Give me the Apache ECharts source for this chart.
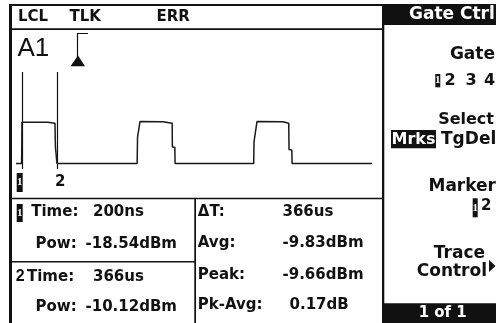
<!DOCTYPE html>
<html><head><meta charset="utf-8">
<script src="https://cdn.jsdelivr.net/npm/echarts@6/dist/echarts.min.js"></script>
<style>html,body{margin:0;padding:0;background:#fff}#c{width:496px;height:323px}</style>
</head><body><div id="c"></div>
<script>
// ---- data ----
const statusFlags = ['LCL', 'TLK', 'ERR'];
const channelLabel = 'A1';
const traceTimeUs = [-60, -2, 0.2, 2, 270, 276, 347, 352, 364, 368,
  1206, 1210, 1236, 1476, 1480, 1572, 1574, 1600, 1602,
  2424, 2427, 2458, 2730, 2734, 2790, 2793, 2822, 2825, 3660];
const traceDbm = [-22.1, -22.1, -18.54, -9.85, -9.85, -10.15, -10.15, -17.2, -17.4, -22.1,
  -22.1, -14.3, -9.66, -9.7, -10.14, -10.14, -17.2, -17.3, -22.1,
  -22.1, -15.7, -9.66, -9.7, -10.14, -10.14, -18.0, -18.1, -22.1, -22.1];
const markerIds = ['1', '2'];
const markerTimeUs = [0.2, 366];
const markerTimeText = ['200ns', '366us'];
const markerPowText = ['-18.54dBm', '-10.12dBm'];
const statNames = ['\u0394T:', 'Avg:', 'Peak:', 'Pk-Avg:'];
const statValues = ['366us', '-9.83dBm', '-9.66dBm', '0.17dB'];
const triggerTimeUs = [574];
const menuTitle = 'Gate Ctrl';
const gateChoices = ['1', '2', '3', '4'];
const selectChoices = ['Mrks', 'TgDel'];
const markerChoices = ['1', '2'];
const menuLabels = ['Gate', 'Select', 'Marker', 'Trace', 'Control'];
const pageText = '1 of 1';

// ---- rendering ----
const BLACK = '#111';
const F = (size, w) => (w || 'bold') + ' ' + size + 'px "DejaVu Sans"';
const txt = (t, x, y, font, opt) => Object.assign({
  type: 'text', x: x, y: y, silent: true,
  style: { text: t, font: font, fill: BLACK, textAlign: 'left', textVerticalAlign: 'middle' }
}, opt || {});
const rect = (x, y, w, h, fill) => ({ type: 'rect', silent: true, shape: { x: x, y: y, width: w, height: h }, style: { fill: fill || BLACK } });
// reversed (white on black) small digit
const revDigit = (t, x, y, w, h) => ({
  type: 'group', silent: true, children: [
    rect(x, y, w, h),
    { type: 'text', x: x + w / 2, y: y + h / 2, style: { text: t, font: 'bold 11px "Liberation Sans Narrow"', fill: '#fff', textAlign: 'center', textVerticalAlign: 'middle' } }
  ]
});

const graphics = [];
// frame
graphics.push(rect(9, 4, 3, 319));
graphics.push(rect(9, 4, 375, 2));
graphics.push(rect(9, 28.3, 375, 1.7));
graphics.push(rect(382, 4, 2.3, 319));
graphics.push(rect(9, 197.8, 375, 1.5));
graphics.push(rect(194.3, 198, 1.7, 125));
graphics.push(rect(9, 261, 186, 1.5));
// status bar
const statusX = [18, 69.5, 156.5];
statusFlags.forEach((s, i) => graphics.push(txt(s, statusX[i], 17.4, F(15))));
graphics.push(txt(channelLabel, 17.5, 48.4, '26px "Liberation Sans"'));
// table, left half (markers)
const rowYL = [212.5, 244.2, 276.7, 306.7];
graphics.push(revDigit(markerIds[0], 16.7, 204, 6, 18));
graphics.push(txt(markerIds[1], 15.8, rowYL[2], 'bold 16px "Liberation Sans"'));
graphics.push(txt('Time:', 31.2, rowYL[0], F(15)));
graphics.push(txt('Time:', 27, rowYL[2], F(15)));
graphics.push(txt('Pow:', 35.5, rowYL[1], F(15)));
graphics.push(txt('Pow:', 35.5, rowYL[3], F(15)));
graphics.push(txt(markerTimeText[0], 93, rowYL[0], F(15)));
graphics.push(txt(markerTimeText[1], 93, rowYL[2], F(15)));
graphics.push(txt(markerPowText[0], 85.5, rowYL[1], F(15)));
graphics.push(txt(markerPowText[1], 85.5, rowYL[3], F(15)));
// table, right half (stats)
const rowYR = [212.5, 242.8, 275, 305.3];
const statValX = [282.5, 282.5, 282.5, 289.5];
statNames.forEach((s, i) => {
  graphics.push(txt(s, 197.8, rowYR[i], F(15)));
  graphics.push(txt(statValues[i], statValX[i], rowYR[i], F(15)));
});
// menu
graphics.push(rect(383, 4, 113, 21));
graphics.push(txt(menuTitle, 409, 14.6, F(17), { style: { text: menuTitle, font: F(17), fill: '#fff', textAlign: 'left', textVerticalAlign: 'middle' } }));
const R = (t, x, y, size) => ({ type: 'text', x: x, y: y, silent: true, style: { text: t, font: F(size), fill: BLACK, textAlign: 'right', textVerticalAlign: 'middle' } });
graphics.push(R(menuLabels[0], 495, 55, 17));
graphics.push(revDigit(gateChoices[0], 435.3, 74, 5, 13.3));
const gateX = [0, 444.5, 465.5, 484];
for (let i = 1; i < gateChoices.length; i++) graphics.push(txt(gateChoices[i], gateX[i], 80.6, F(16)));
graphics.push(R(menuLabels[1], 494, 119.5, 16));
graphics.push(rect(391, 130, 45, 18.3));
graphics.push({ type: 'text', x: 413.5, y: 139.4, silent: true, style: { text: selectChoices[0], font: F(16), fill: '#fff', textAlign: 'center', textVerticalAlign: 'middle' } });
graphics.push(txt(selectChoices[1], 441, 139.4, F(17)));
graphics.push(R(menuLabels[2], 496, 187, 17));
graphics.push(revDigit(markerChoices[0], 472.7, 198.3, 5, 19));
graphics.push(txt(markerChoices[1], 481, 206, F(15)));
graphics.push(R(menuLabels[3], 485, 253.5, 17));
graphics.push(R(menuLabels[4], 487, 271.8, 17));
graphics.push({ type: 'polygon', silent: true, shape: { points: [[489, 260], [495.5, 266], [489, 272]] }, style: { fill: BLACK } });
graphics.push(rect(383, 303.3, 113, 20));
graphics.push({ type: 'text', x: 442.7, y: 312.8, silent: true, style: { text: pageText, font: F(15), fill: '#fff', textAlign: 'center', textVerticalAlign: 'middle' } });

const chart = echarts.init(document.getElementById('c'), null, { renderer: 'canvas' });
chart.setOption({
  animation: false,
  backgroundColor: '#fff',
  grid: { left: 16, right: 124, top: 31, bottom: 124 },
  xAxis: { type: 'value', min: -60, max: 3660, show: false },
  yAxis: { type: 'value', min: -32.7, max: 17.3, show: false },
  graphic: graphics,
  series: [
    {
      type: 'line', name: 'trace', symbol: 'none', silent: true,
      data: traceTimeUs.map((t, i) => [t, traceDbm[i]]),
      lineStyle: { color: '#1a1a1a', width: 1.5 }
    },
    {
      type: 'custom', name: 'markers', silent: true,
      data: markerTimeUs.map((t, i) => [t, i]),
      renderItem: function (params, api) {
        const cs = params.coordSys;
        const x = Math.round(api.coord([api.value(0), 0])[0]) + 0.5;
        const i = api.value(1);
        const children = [{
          type: 'line', shape: { x1: x, y1: cs.y + 41, x2: x, y2: cs.y + 138 },
          style: { stroke: BLACK, lineWidth: 1.2 }
        }];
        if (i === 0) {
          children.push({ type: 'rect', shape: { x: x - 5.8, y: cs.y + 142, width: 6, height: 19 }, style: { fill: BLACK } });
          children.push({ type: 'text', x: x - 2.8, y: cs.y + 151.5, style: { text: markerIds[i], font: 'bold 11px "Liberation Sans Narrow"', fill: '#fff', textAlign: 'center', textVerticalAlign: 'middle' } });
        } else {
          children.push({ type: 'text', x: x - 2.5, y: cs.y + 151.5, style: { text: markerIds[i], font: F(15), fill: BLACK, textAlign: 'left', textVerticalAlign: 'middle' } });
        }
        return { type: 'group', children: children };
      }
    },
    {
      type: 'custom', name: 'trigger', silent: true,
      data: triggerTimeUs.map(t => [t]),
      renderItem: function (params, api) {
        const cs = params.coordSys;
        const x = Math.round(api.coord([api.value(0), 0])[0]) + 0.5;
        const t = cs.y + 2.5;
        return {
          type: 'group', children: [
            { type: 'polyline', shape: { points: [[x + 10.5, t], [x, t], [x, t + 28]] }, style: { stroke: BLACK, lineWidth: 1.2, fill: null } },
            { type: 'polygon', shape: { points: [[x + 0.5, cs.y + 24.5], [x - 7, cs.y + 35.3], [x + 7.5, cs.y + 35.3]] }, style: { fill: BLACK } }
          ]
        };
      }
    }
  ]
});
</script></body></html>
